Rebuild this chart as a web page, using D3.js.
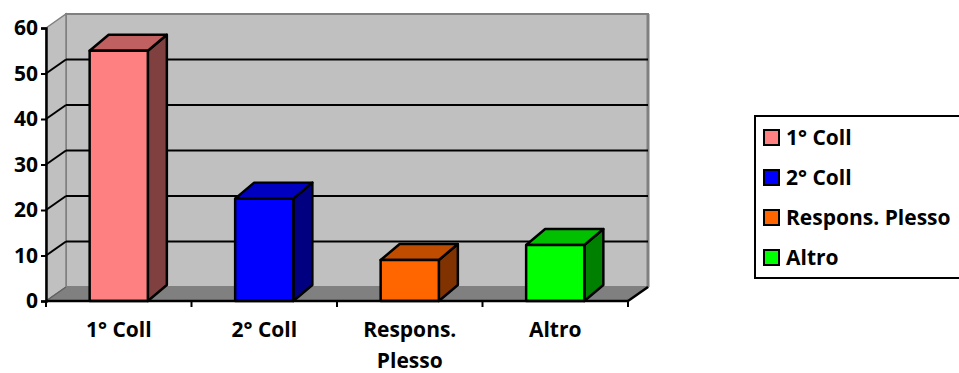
<!DOCTYPE html>
<html>
<head>
<meta charset="utf-8">
<script src="https://cdn.jsdelivr.net/npm/d3@7"></script>
<style>
  html, body { margin: 0; padding: 0; background: #fff; }
  svg { display: block; }
  text { font-family: "Open Sans", "Lato", sans-serif; font-weight: bold; fill: #000; }
</style>
</head>
<body>
<svg id="chart" width="959" height="373"></svg>
<script>
// Chart data
const categories = ["1° Coll", "2° Coll", "Respons. Plesso", "Altro"];
const categoryLines = [["1° Coll"], ["2° Coll"], ["Respons.", "Plesso"], ["Altro"]];
const values = [55, 22.5, 9, 12.3];
const yTicks = [0, 10, 20, 30, 40, 50, 60];
const frontColors = ["#FF8080", "#0000FF", "#FF6600", "#00FF00"];
const topColors = ["#C06060", "#0000C0", "#C04C00", "#00C000"];
const sideColors = ["#804040", "#000080", "#803300", "#008000"];

const svg = d3.select("#chart");
const fontSize = "21px";

// Plot geometry (front plane)
const plotLeft = 46, plotRight = 628, plotBottom = 301, plotTop = 28;
// Depth offset of the back wall and of the columns
const wdx = 20, wdy = -14;
const bdx = 19, bdy = -16;

const x = d3.scaleBand().domain(categories).range([plotLeft, plotRight])
  .paddingInner(0.6).paddingOuter(0.3);
const y = d3.scaleLinear().domain([0, 60]).range([plotBottom, plotTop]);

const pts = a => a.map(p => p.join(",")).join(" ");

// Back wall
svg.append("polygon")
  .attr("points", pts([[plotLeft + wdx, y(60) + wdy], [plotRight + wdx, y(60) + wdy],
                       [plotRight + wdx, y(0) + wdy], [plotLeft + wdx, y(0) + wdy]]))
  .attr("fill", "#C0C0C0").attr("stroke", "#808080").attr("stroke-width", 2);
svg.append("line")
  .attr("x1", plotRight + wdx).attr("x2", plotRight + wdx)
  .attr("y1", y(60) + wdy).attr("y2", y(0) + wdy)
  .attr("stroke", "#808080").attr("stroke-width", 3);

// Side wall
svg.append("polygon")
  .attr("points", pts([[plotLeft, y(60)], [plotLeft + wdx, y(60) + wdy],
                       [plotLeft + wdx, y(0) + wdy], [plotLeft, y(0)]]))
  .attr("fill", "#C0C0C0").attr("stroke", "#808080").attr("stroke-width", 1.5);

// Floor
svg.append("polygon")
  .attr("points", pts([[plotLeft, y(0)], [plotRight, y(0)],
                       [plotRight + wdx, y(0) + wdy], [plotLeft + wdx, y(0) + wdy]]))
  .attr("fill", "#808080").attr("stroke", "#808080").attr("stroke-width", 1);
svg.append("line")
  .attr("x1", plotLeft).attr("y1", y(0)).attr("x2", plotLeft + wdx).attr("y2", y(0) + wdy)
  .attr("stroke", "#606060").attr("stroke-width", 1.2);
svg.append("line")
  .attr("x1", plotRight).attr("y1", y(0)).attr("x2", plotRight + wdx).attr("y2", y(0) + wdy)
  .attr("stroke", "#000").attr("stroke-width", 2.5);

// Gridlines: back wall and side wall
const inner = yTicks.filter(v => v > 0 && v < 60);
svg.append("g").selectAll("line").data(inner).join("line")
  .attr("x1", plotLeft + wdx).attr("x2", plotRight + wdx)
  .attr("y1", d => y(d) + wdy).attr("y2", d => y(d) + wdy)
  .attr("stroke", "#000").attr("stroke-width", 2);
svg.append("g").selectAll("line").data(inner).join("line")
  .attr("x1", plotLeft).attr("x2", plotLeft + wdx)
  .attr("y1", d => y(d)).attr("y2", d => y(d) + wdy)
  .attr("stroke", "#000").attr("stroke-width", 2);

// Columns
const bars = svg.append("g").selectAll("g").data(categories).join("g");
bars.each(function (c, i) {
  const g = d3.select(this);
  const x0 = x(c), x1 = x(c) + x.bandwidth();
  const yt = y(values[i]), yb = y(0);
  g.append("polygon") // side
    .attr("points", pts([[x1, yt], [x1 + bdx, yt + bdy], [x1 + bdx, yb + bdy], [x1, yb]]))
    .attr("fill", sideColors[i]);
  g.append("polygon") // top
    .attr("points", pts([[x0, yt], [x0 + bdx, yt + bdy], [x1 + bdx, yt + bdy], [x1, yt]]))
    .attr("fill", topColors[i]);
  g.append("rect") // front
    .attr("x", x0).attr("y", yt).attr("width", x.bandwidth()).attr("height", yb - yt)
    .attr("fill", frontColors[i]);
  g.selectAll("polygon, rect")
    .attr("stroke", "#000").attr("stroke-width", 2.5).attr("stroke-linejoin", "round");
});

// Value axis
const yAxis = svg.append("g").attr("transform", `translate(${plotLeft},0)`)
  .call(d3.axisLeft(y).tickValues(yTicks).tickSize(5).tickPadding(3));
yAxis.select(".domain").attr("stroke", "#000").attr("stroke-width", 2.5);
yAxis.selectAll(".tick line").attr("stroke", "#000").attr("stroke-width", 2);
yAxis.selectAll(".tick text").style("font-size", fontSize)
  .style("font-family", '"Open Sans", sans-serif').style("font-weight", "bold")
  .attr("fill", "#000");

// Category axis
svg.append("line")
  .attr("x1", plotLeft).attr("x2", plotRight).attr("y1", y(0)).attr("y2", y(0))
  .attr("stroke", "#000").attr("stroke-width", 2.5);
const bounds = d3.range(categories.length + 1).map(k => plotLeft + k * x.step());
svg.append("g").selectAll("line").data(bounds).join("line")
  .attr("x1", d => d).attr("x2", d => d)
  .attr("y1", y(0)).attr("y2", y(0) + 6)
  .attr("stroke", "#000").attr("stroke-width", 2);
const labels = svg.append("g").selectAll("text").data(categories).join("text")
  .attr("x", d => x(d) + x.bandwidth() / 2)
  .attr("y", 337)
  .attr("text-anchor", "middle")
  .style("font-size", fontSize);
labels.each(function (c, i) {
  d3.select(this).selectAll("tspan").data(categoryLines[i]).join("tspan")
    .attr("x", x(c) + x.bandwidth() / 2)
    .attr("dy", (d, k) => k === 0 ? 0 : 31)
    .text(d => d);
});

// Legend
const legend = svg.append("g");
legend.append("rect")
  .attr("x", 755).attr("y", 116).attr("width", 220).attr("height", 162)
  .attr("fill", "#fff").attr("stroke", "#000").attr("stroke-width", 2);
const items = legend.selectAll("g").data(categories).join("g")
  .attr("transform", (d, i) => `translate(0,${138 + i * 40})`);
items.append("rect")
  .attr("x", 764).attr("y", -8).attr("width", 15).attr("height", 15)
  .attr("fill", (d, i) => frontColors[i]).attr("stroke", "#000").attr("stroke-width", 2);
items.append("text")
  .attr("x", 786).attr("y", 7)
  .style("font-size", fontSize)
  .text(d => d);
</script>
</body>
</html>
